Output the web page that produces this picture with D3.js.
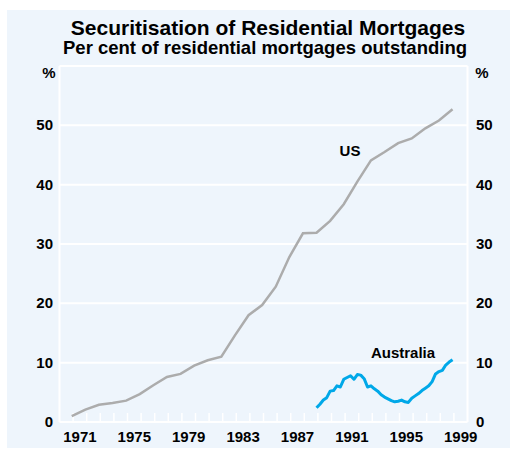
<!DOCTYPE html>
<html>
<head>
<meta charset="utf-8">
<script src="https://d3js.org/d3.v7.min.js"></script>
<style>
  body { margin: 0; background: #fff; }
  text { font-family: "Liberation Sans", Arial, sans-serif; font-weight: bold; fill: #000; }
</style>
</head>
<body>
<svg id="chart" width="515" height="451"></svg>
<script>
// US: end of year values, per cent
var usYears = [1970, 1971, 1972, 1973, 1974, 1975, 1976, 1977, 1978, 1979,
               1980, 1981, 1982, 1983, 1984, 1985, 1986, 1987, 1988, 1989,
               1990, 1991, 1992, 1993, 1994, 1995, 1996, 1997, 1998]
var usValues = [1.0, 2.1, 2.9, 3.2, 3.6, 4.7, 6.2, 7.6, 8.1, 9.5,
                10.4, 11.0, 14.6, 18.0, 19.7, 22.8, 27.8, 31.8, 31.9, 33.9,
                36.7, 40.5, 44.1, 45.5, 47.0, 47.8, 49.5, 50.8, 52.7]

// Australia: quarterly, Dec 1988 to Dec 1998
var auStart = 1988.75
var auValues = [2.4, 3.0, 3.7, 4.1, 5.2, 5.3, 6.1, 5.9, 7.2, 7.5,
                7.8, 7.2, 8.0, 7.9, 7.3, 5.9, 6.1, 5.6, 5.2, 4.6,
                4.2, 3.9, 3.6, 3.4, 3.5, 3.7, 3.4, 3.3, 4.0, 4.4,
                4.8, 5.3, 5.7, 6.1, 6.8, 8.1, 8.5, 8.7, 9.6, 10.1, 10.5]

var yearLabels = [1971, 1975, 1979, 1983, 1987, 1991, 1995, 1999]
var yTicks = [0, 10, 20, 30, 40, 50]

var svg = d3.select("#chart")

// panel background
svg.append("rect")
  .attr("x", 7).attr("y", 10)
  .attr("width", 503).attr("height", 438)
  .attr("fill", "#eef5fc")

var x = d3.scaleLinear().domain([1970, 2000]).range([59.5, 467.5])
var y = d3.scaleLinear().domain([0, 60]).range([422, 66])

// title
svg.append("text")
  .attr("x", 268).attr("y", 35)
  .attr("text-anchor", "middle")
  .style("font-size", "21px")
  .text("Securitisation of Residential Mortgages")
svg.append("text")
  .attr("x", 265).attr("y", 54)
  .attr("text-anchor", "middle")
  .style("font-size", "18.5px")
  .text("Per cent of residential mortgages outstanding")

// grid
var grid = svg.append("g")
grid.selectAll("line.h")
  .data(d3.range(0, 70, 10))
  .enter().append("line")
  .attr("x1", x(1970)).attr("x2", x(2000))
  .attr("y1", function(d) { return y(d) })
  .attr("y2", function(d) { return y(d) })
  .attr("stroke", "#fff").attr("stroke-width", 2)
grid.selectAll("line.v")
  .data([1970, 2000])
  .enter().append("line")
  .attr("x1", function(d) { return x(d) })
  .attr("x2", function(d) { return x(d) })
  .attr("y1", y(0)).attr("y2", y(60))
  .attr("stroke", "#fff").attr("stroke-width", 2)

// year ticks on the zero line
grid.selectAll("line.t")
  .data(d3.range(1971, 2000))
  .enter().append("line")
  .attr("x1", function(d) { return x(d) })
  .attr("x2", function(d) { return x(d) })
  .attr("y1", y(0)).attr("y2", y(0) - 9)
  .attr("stroke", "#fff").attr("stroke-width", 1.5)

// y labels, both sides
svg.selectAll("text.yl")
  .data(yTicks)
  .enter().append("text")
  .attr("x", 53)
  .attr("y", function(d) { return y(d) + 5 })
  .attr("text-anchor", "end")
  .style("font-size", "15px")
  .text(function(d) { return d })
svg.selectAll("text.yr")
  .data(yTicks)
  .enter().append("text")
  .attr("x", 476)
  .attr("y", function(d) { return y(d) + 5 })
  .style("font-size", "15px")
  .text(function(d) { return d })
svg.append("text").attr("x", 49).attr("y", 78)
  .attr("text-anchor", "middle").style("font-size", "15px").text("%")
svg.append("text").attr("x", 482).attr("y", 78)
  .attr("text-anchor", "middle").style("font-size", "15px").text("%")

// x labels centred in each year
svg.selectAll("text.xl")
  .data(yearLabels)
  .enter().append("text")
  .attr("x", function(d) { return x(d + 0.5) })
  .attr("y", 442)
  .attr("text-anchor", "middle")
  .style("font-size", "15px")
  .text(function(d) { return d })

// series
var usData = usYears.map(function(yr, i) { return { t: yr + 0.9, v: usValues[i] } })
var auData = auValues.map(function(v, i) { return { t: auStart + 0.15 + i * 0.25, v: v } })

var line = d3.line()
  .x(function(d) { return x(d.t) })
  .y(function(d) { return y(d.v) })

svg.append("path")
  .datum(usData)
  .attr("fill", "none")
  .attr("stroke", "#acacac")
  .attr("stroke-width", 2.5)
  .attr("d", line)

svg.append("path")
  .datum(auData)
  .attr("fill", "none")
  .attr("stroke", "#00a8e8")
  .attr("stroke-width", 3)
  .attr("stroke-linejoin", "round")
  .attr("d", line)

// series labels
svg.append("text").attr("x", 350).attr("y", 156)
  .attr("text-anchor", "middle").style("font-size", "15px").text("US")
svg.append("text").attr("x", 403).attr("y", 358)
  .attr("text-anchor", "middle").style("font-size", "15px").text("Australia")
</script>
</body>
</html>
